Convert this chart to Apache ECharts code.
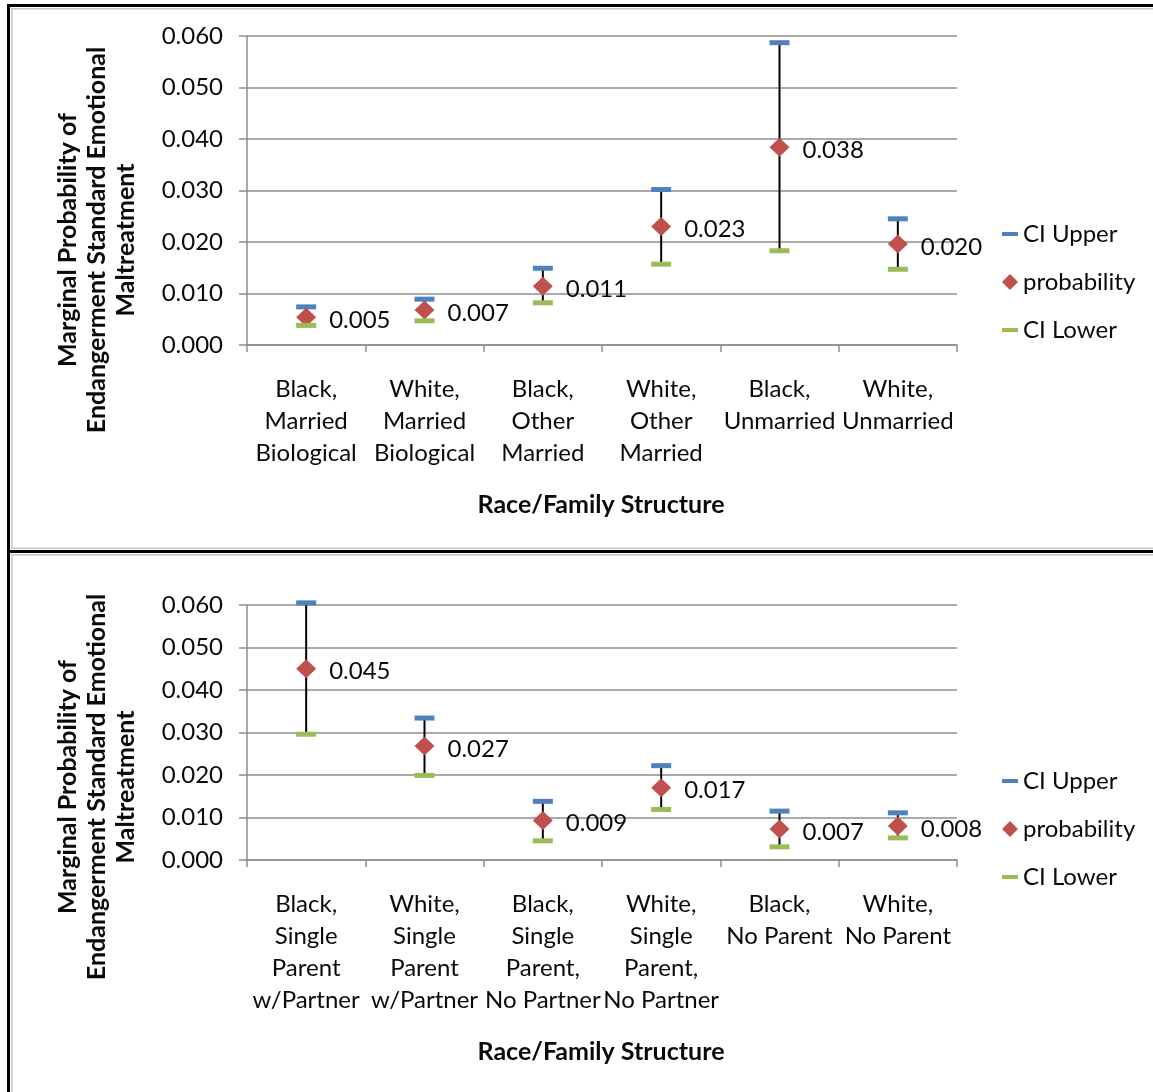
<!DOCTYPE html>
<html>
<head>
<meta charset="utf-8">
<script src="https://cdn.jsdelivr.net/npm/echarts@6/dist/echarts.min.js"></script>
<style>
html,body{margin:0;padding:0;background:#fff;}
#chart{width:1153px;height:1092px;}
</style>
</head>
<body>
<div id="chart"></div>
<script>
// ---- Data ----
var yTicks = [0, 0.01, 0.02, 0.03, 0.04, 0.05, 0.06];

var cats1 = ['Black,\nMarried\nBiological', 'White,\nMarried\nBiological', 'Black,\nOther\nMarried', 'White,\nOther\nMarried', 'Black,\nUnmarried', 'White,\nUnmarried'];
var upper1 = [0.0074, 0.0089, 0.0149, 0.0302, 0.0587, 0.0245];
var prob1  = [0.0054, 0.0068, 0.0114, 0.0230, 0.0384, 0.0196];
var lower1 = [0.0038, 0.0047, 0.0082, 0.0157, 0.0183, 0.0147];

var cats2 = ['Black,\nSingle\nParent\nw/Partner', 'White,\nSingle\nParent\nw/Partner', 'Black,\nSingle\nParent,\nNo Partner', 'White,\nSingle\nParent,\nNo Partner', 'Black,\nNo Parent', 'White,\nNo Parent'];
var upper2 = [0.0605, 0.0334, 0.0138, 0.0222, 0.0115, 0.0111];
var prob2  = [0.0450, 0.0268, 0.0093, 0.0170, 0.0073, 0.0080];
var lower2 = [0.0296, 0.0199, 0.0045, 0.0119, 0.0031, 0.0052];

var yTitle = 'Marginal Probability of\nEndangerment Standard Emotional\nMaltreatment';
var xTitle = 'Race/Family Structure';
var seriesNames = ['CI Upper', 'probability', 'CI Lower'];

// ---- Style ----
var FONT = 'Lato, "Open Sans", sans-serif';
var GRID_GRAY = '#8e8e8e';
var TXT = '#0a0a0a';
var BLUE = '#4f81bd', RED = '#c0504d', GREEN = '#9bbb59';

function errData(up, lo) {
  return up.map(function (u, i) { return [i, u, lo[i]]; });
}

function errSeries(idx, up, lo) {
  return {
    type: 'custom', xAxisIndex: idx, yAxisIndex: idx, z: 1, silent: true,
    data: errData(up, lo), encode: { x: 0, y: [1, 2] }, clip: false,
    renderItem: function (params, api) {
      var a = api.coord([api.value(0), api.value(1)]);
      var b = api.coord([api.value(0), api.value(2)]);
      return { type: 'line', shape: { x1: a[0], y1: a[1], x2: b[0], y2: b[1] },
               style: { stroke: '#000', lineWidth: 2 } };
    }
  };
}

function markSeries(idx, name, data, color, symbol, size, withLabel) {
  var s = {
    type: 'scatter', name: name, xAxisIndex: idx, yAxisIndex: idx, z: 3, clip: false,
    data: data, symbol: symbol, symbolSize: size,
    itemStyle: { color: color, opacity: 1 },
    emphasis: { disabled: true }
  };
  if (withLabel) {
    s.label = { show: true, position: 'right', distance: 13, offset: [0, 3],
      formatter: function (p) { return Number(p.value).toFixed(3); },
      fontFamily: FONT, fontSize: 24, color: TXT };
  }
  return s;
}

function xAxisCfg(idx, cats) {
  return {
    type: 'category', gridIndex: idx, data: cats, boundaryGap: true,
    axisLine: { show: true, lineStyle: { color: GRID_GRAY, width: 1.5 } },
    axisTick: { show: true, alignWithLabel: false, interval: 0, length: 7, lineStyle: { color: GRID_GRAY, width: 1.5 } },
    axisLabel: { interval: 0, fontFamily: FONT, fontSize: 24, lineHeight: 32, margin: 28, color: TXT },
    splitLine: { show: false }
  };
}

function yAxisCfg(idx) {
  return {
    type: 'value', gridIndex: idx, min: yTicks[0], max: yTicks[yTicks.length - 1], interval: yTicks[1] - yTicks[0],
    axisLine: { show: true, lineStyle: { color: GRID_GRAY, width: 1.5 } },
    axisTick: { show: true, length: 8, lineStyle: { color: GRID_GRAY, width: 1.5 } },
    axisLabel: { formatter: function (v) { return v.toFixed(3); }, fontFamily: FONT, fontSize: 24, margin: 24, color: TXT },
    splitLine: { show: true, lineStyle: { color: GRID_GRAY, width: 1.5 } }
  };
}

var dash = 'path://M0,0H16V4H0Z';
function legendCfg(top) {
  return {
    orient: 'vertical', left: 997, top: top, itemWidth: 16, itemHeight: 16, itemGap: 24,
    selectedMode: false,
    textStyle: { fontFamily: FONT, fontSize: 24, lineHeight: 24, color: TXT },
    data: [ { name: seriesNames[0], icon: dash }, { name: seriesNames[1], icon: 'diamond' }, { name: seriesNames[2], icon: dash } ]
  };
}

function titleText(x, y, text, rot) {
  return {
    type: 'text', x: x, y: y, rotation: rot || 0, z: 10,
    style: { text: text, font: 'bold 25px ' + FONT, fill: TXT,
             align: 'center', verticalAlign: 'middle', textAlign: 'center', textVerticalAlign: 'middle', lineHeight: 29 }
  };
}

function hline(y, x1, x2, w, c) { return { type: 'line', shape: { x1: x1, y1: y, x2: x2, y2: y }, style: { stroke: c, lineWidth: w }, z: 20 }; }
function vline(x, y1, y2, w, c) { return { type: 'line', shape: { x1: x, y1: y1, x2: x, y2: y2 }, style: { stroke: c, lineWidth: w }, z: 20 }; }

var chart = echarts.init(document.getElementById('chart'), null, { renderer: 'canvas' });
chart.setOption({
  animation: false,
  backgroundColor: '#fff',
  grid: [
    { left: 247, top: 36, width: 710, height: 309, containLabel: false, outerBoundsMode: 'none' },
    { left: 247, top: 605, width: 710, height: 255, containLabel: false, outerBoundsMode: 'none' }
  ],
  xAxis: [xAxisCfg(0, cats1), xAxisCfg(1, cats2)],
  yAxis: [yAxisCfg(0), yAxisCfg(1)],
  legend: [legendCfg(217), legendCfg(764)],
  series: [
    errSeries(0, upper1, lower1),
    markSeries(0, seriesNames[0], upper1, BLUE, 'rect', [20, 5], false),
    markSeries(0, seriesNames[1], prob1, RED, 'diamond', [20, 19], true),
    markSeries(0, seriesNames[2], lower1, GREEN, 'rect', [20, 5], false),
    errSeries(1, upper2, lower2),
    markSeries(1, seriesNames[0], upper2, BLUE, 'rect', [20, 5], false),
    markSeries(1, seriesNames[1], prob2, RED, 'diamond', [20, 19], true),
    markSeries(1, seriesNames[2], lower2, GREEN, 'rect', [20, 5], false)
  ],
  graphic: [
    titleText(97, 240, yTitle, Math.PI / 2),
    titleText(97, 787, yTitle, Math.PI / 2),
    titleText(601, 505, xTitle, 0),
    titleText(601, 1052, xTitle, 0),
    // frame
    vline(8.5, 4, 1092, 3, '#000'),
    hline(5.5, 7, 1153, 3, '#000'),
    hline(551.5, 7, 1153, 3, '#000'),
    vline(12, 8, 549, 1.5, '#c4c4c4'),
    vline(12, 554, 1092, 1.5, '#c4c4c4'),
    hline(8.8, 11, 1153, 1.5, '#c4c4c4'),
    hline(548.2, 11, 1153, 1.5, '#c4c4c4'),
    hline(554.8, 11, 1153, 1.5, '#c4c4c4')
  ]
});
</script>
</body>
</html>
